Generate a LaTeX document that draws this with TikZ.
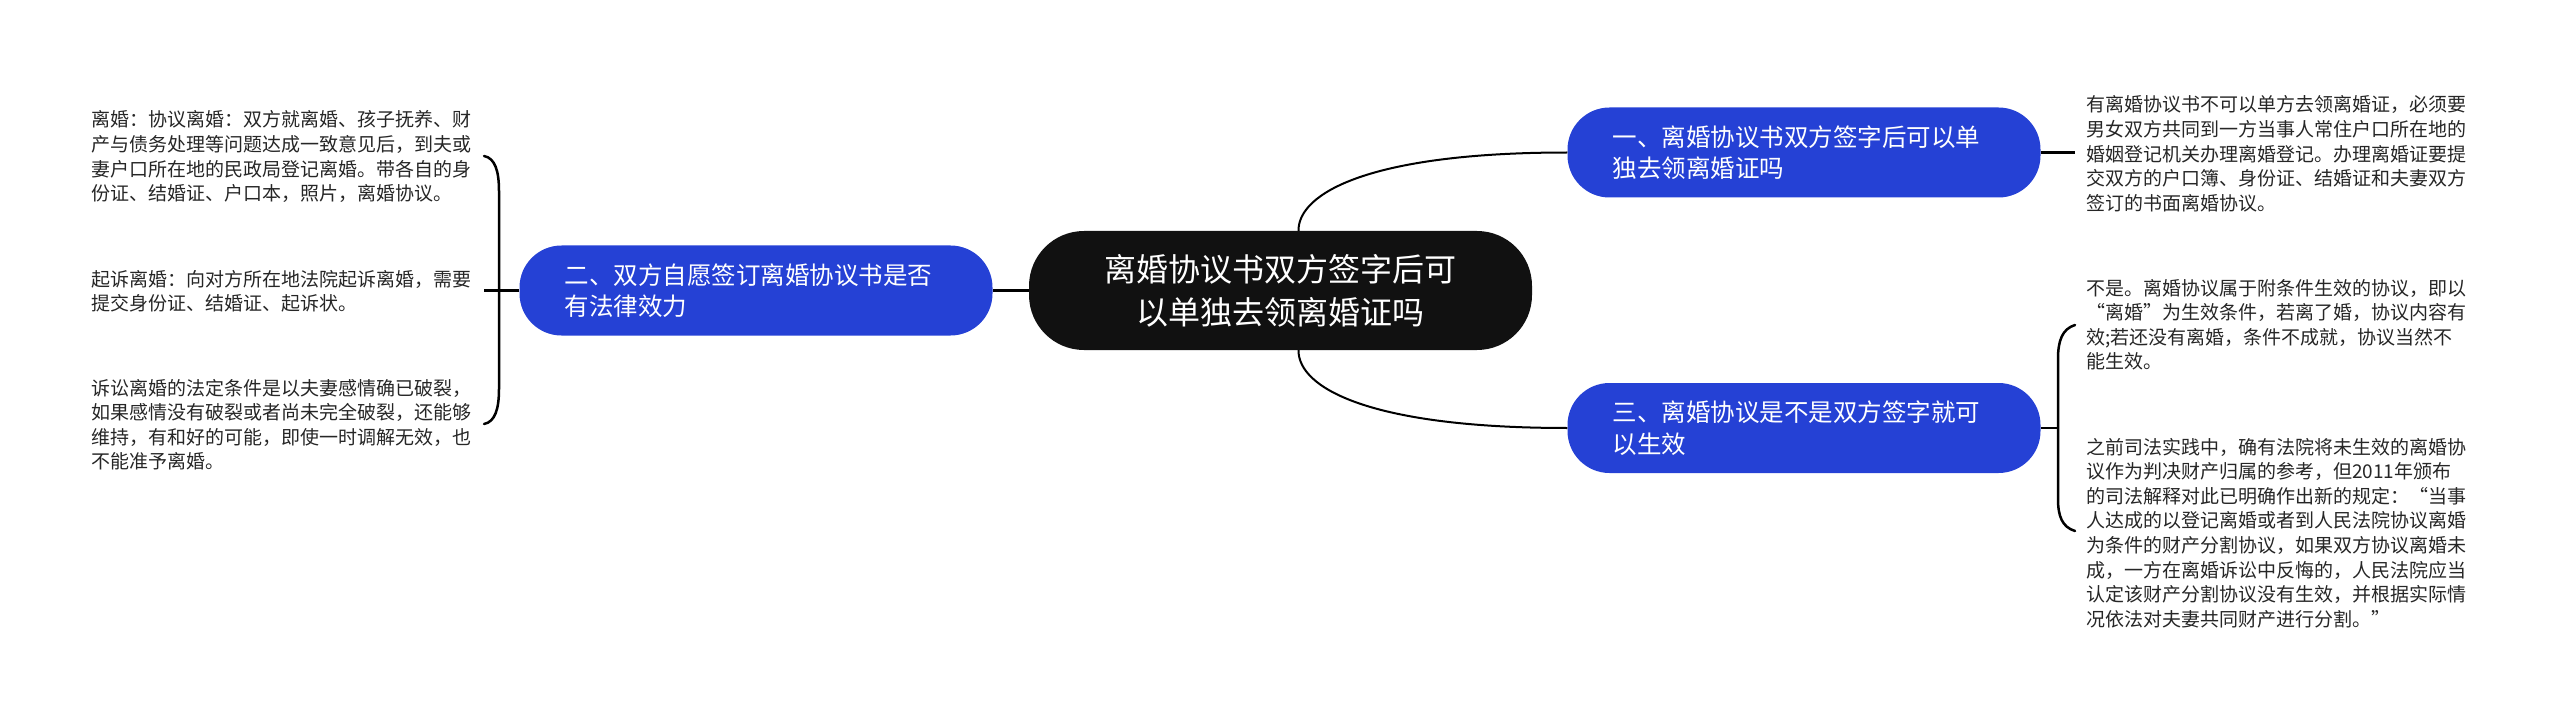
\documentclass[tikz,border=0pt]{standalone}
\usepackage{fontspec}
\newfontfamily\cjkfont{Noto Sans CJK SC}
\definecolor{topicblue}{HTML}{2541D5}
\definecolor{rootblack}{HTML}{111111}
\definecolor{leafgray}{HTML}{262626}

\begin{document}
\begin{tikzpicture}[x=1pt,y=1pt,yscale=-1,xscale=1,
  root/.style={fill=rootblack,rounded corners=55pt,minimum width=503pt,minimum height=119pt,text width=420pt,align=center,text=white,inner sep=0pt,font=\cjkfont\fontsize{32}{43}\selectfont},
  topic/.style={fill=topicblue,rounded corners=42pt,minimum width=473pt,minimum height=90pt,text width=383pt,align=left,text=white,inner xsep=45pt,inner ysep=0pt,font=\cjkfont\fontsize{24.5}{31.5}\selectfont},
  leaf/.style={anchor=base west,text width=400pt,align=left,inner sep=0pt,text=leafgray,font=\cjkfont\fontsize{19}{24.6}\selectfont},
  link/.style={line width=2pt,black},
  brace/.style={line width=2.5pt,black,line cap=round}]
%set diagram left start at 0, and has height of 722
\useasboundingbox (0,0) rectangle (2560,722);

%Shape: Root
\node (root) [root] at (1280.5,290.5) {离婚协议书双方签字后可\\以单独去领离婚证吗};
%Shape: Topics
\node (t1) [topic] at (1804,152.5) {一、离婚协议书双方签字后可以单\\独去领离婚证吗};
\node (t2) [topic] at (756,290.5) {二、双方自愿签订离婚协议书是否\\有法律效力};
\node (t3) [topic] at (1804,428) {三、离婚协议是不是双方签字就可\\以生效};

% Text Node
\node (l1) [leaf] at (91,127) {离婚：协议离婚：双方就离婚、孩子抚养、财\\产与债务处理等问题达成一致意见后，到夫或\\妻户口所在地的民政局登记离婚。带各自的身\\份证、结婚证、户口本，照片，离婚协议。};
% Text Node
\node (l2) [leaf] at (91,286) {起诉离婚：向对方所在地法院起诉离婚，需要\\提交身份证、结婚证、起诉状。};
% Text Node
\node (l3) [leaf] at (91,395) {诉讼离婚的法定条件是以夫妻感情确已破裂，\\如果感情没有破裂或者尚未完全破裂，还能够\\维持，有和好的可能，即使一时调解无效，也\\不能准予离婚。};
% Text Node
\node (r1) [leaf] at (2086,112) {有离婚协议书不可以单方去领离婚证，必须要\\男女双方共同到一方当事人常住户口所在地的\\婚姻登记机关办理离婚登记。办理离婚证要提\\交双方的户口簿、身份证、结婚证和夫妻双方\\签订的书面离婚协议。};
% Text Node
\node (r2) [leaf] at (2086,295) {不是。离婚协议属于附条件生效的协议，即以\\“离婚”为生效条件，若离了婚，协议内容有\\效;若还没有离婚，条件不成就，协议当然不\\能生效。};
% Text Node
\node (r3) [leaf] at (2086,454) {之前司法实践中，确有法院将未生效的离婚协\\议作为判决财产归属的参考，但2011年颁布\\的司法解释对此已明确作出新的规定：“当事\\人达成的以登记离婚或者到人民法院协议离婚\\为条件的财产分割协议，如果双方协议离婚未\\成，一方在离婚诉讼中反悔的，人民法院应当\\认定该财产分割协议没有生效，并根据实际情\\况依法对夫妻共同财产进行分割。”};

%Connectors from root
\draw [link] ([xshift=18pt]root.north) .. controls (1298,193) and (1370,152.5) .. (t1.west);
\draw [link] ([xshift=18pt]root.south) .. controls (1298,388) and (1370,428) .. (t3.west);
\draw [link,line width=2.5pt] (root.west) -- (t2.east);

%Left brace
\coordinate (lbtop) at (484,156);
\coordinate (lbbot) at (484,424);
\coordinate (lbmid) at (484,290.5);
\draw [link,line width=2.5pt] (t2.west) -- (lbmid);
\draw [brace] (lbtop) .. controls (495,158) and (499,171) .. (499,191) -- (499,389) .. controls (499,409) and (495,422) .. (lbbot);

%Right connectors
\coordinate (r1end) at (2075,152.5);
\draw [link,line width=2.5pt] (t1.east) -- (r1end);
\coordinate (rbtop) at (2075,325);
\coordinate (rbbot) at (2075,531);
\coordinate (rbmid) at (2058,428);
\draw [link,line width=2.5pt] (t3.east) -- (rbmid);
\draw [brace] (rbtop) .. controls (2062,329) and (2058,341) .. (2058,359) -- (2058,499) .. controls (2058,516) and (2062,527) .. (rbbot);

\end{tikzpicture}
\end{document}
